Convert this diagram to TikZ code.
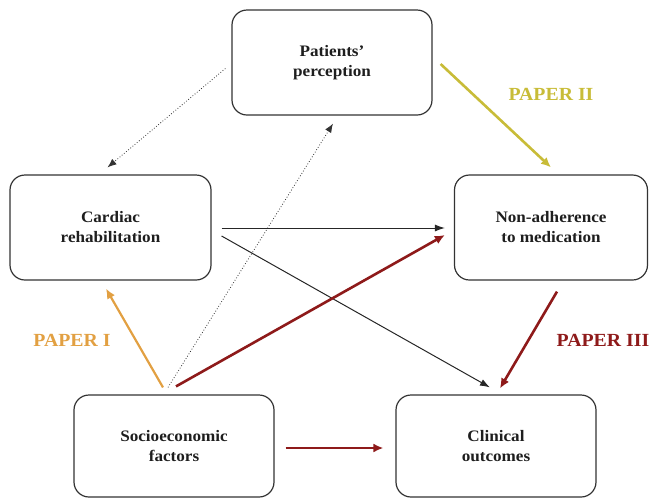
\documentclass[tikz,border=0pt]{standalone}
\usepackage{fontspec}
\setmainfont{Liberation Serif}
\newfontfamily\widefont{Liberation Serif}[FakeStretch=1.07]
\usetikzlibrary{arrows.meta,calc}
\definecolor{boxline}{HTML}{333333}
\definecolor{txt}{HTML}{1E1E1E}
\definecolor{orangeI}{HTML}{E2A042}
\definecolor{yellowII}{HTML}{C8BC38}
\definecolor{redIII}{HTML}{8E1A1A}
\tikzset{
  box/.style={draw=boxline, line width=1.2pt, rounded corners=15pt, minimum width=200pt, minimum height=105pt, align=center, text=txt, font=\widefont\fontsize{16}{20}\selectfont\bfseries},
  dotarrow/.style={draw=black!80, dotted, line width=0.8pt, -{Latex[length=9pt,width=7pt]}},
  thinarrow/.style={draw=black!85, line width=1pt, -{Latex[length=10pt,width=7pt]}},
  redarrow/.style={draw=redIII, line width=2.6pt, -{Latex[length=10pt,width=9pt]}},
  orangearrow/.style={draw=orangeI, line width=2.2pt, -{Latex[length=10pt,width=9pt]}},
  yellowarrow/.style={draw=yellowII, line width=2.6pt, -{Latex[length=10pt,width=9pt]}},
  paperlabel/.style={font=\widefont\fontsize{18.5}{22}\selectfont\bfseries}
}
\begin{document}
\begin{tikzpicture}[x=1pt,y=-1pt]
\useasboundingbox (0,0) rectangle (649,499);
\node[box] (pp) at (332,62.5) {Patients’\\perception};
\node[box, minimum width=201pt] (cr) at (110.5,227.5) {Cardiac\\rehabilitation};
\node[box, minimum width=193pt] (na) at (551,227.5) {Non-adherence\\to medication};
\node[box, minimum height=102pt] (se) at (174,446) {Socioeconomic\\factors};
\node[box, minimum height=102pt] (co) at (496,446) {Clinical\\outcomes};

\draw[dotarrow] ($(pp.west)+(-6,6)$) -- ($(cr.north)+(-3,-7)$);
\draw[dotarrow] ($(se.north)+(-6,-7)$) -- ($(pp.south)+(1,8)$);
\draw[thinarrow] ($(cr.east)+(10,0.5)$) -- ($(na.west)+(-9,0.5)$);
\draw[thinarrow] ($(cr.east)+(10,8.5)$) -- ($(co.north)+(-6,-7)$);
\draw[orangearrow] ($(se.north)+(-11,-7)$) -- ($(cr.south)+(-4.5,8)$);
\draw[redarrow] ($(se.north)+(2,-8)$) -- ($(na.west)+(-9,7.5)$);
\draw[yellowarrow] ($(pp.east)+(8,1.5)$) -- ($(na.north)+(0,-7)$);
\draw[redarrow] ($(na.south)+(6,11)$) -- ($(co.north)+(4,-6)$);
\draw[redarrow] ($(se.east)+(11,2)$) -- ($(co.west)+(-12,2)$);

\node[paperlabel, text=orangeI] (p1) at (72,340) {PAPER I};
\node[paperlabel, text=yellowII] (p2) at (551,94) {PAPER II};
\node[paperlabel, text=redIII] (p3) at (603,340) {PAPER III};
\end{tikzpicture}
\end{document}
